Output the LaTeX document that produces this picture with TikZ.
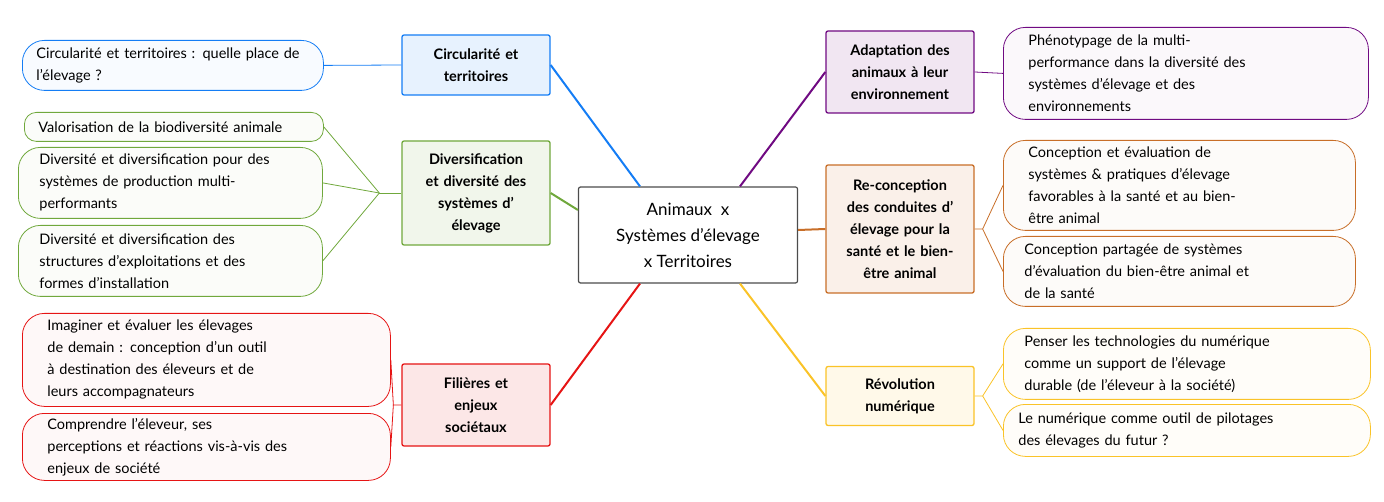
\documentclass[tikz,border=0pt]{standalone}
\usepackage{fontspec}
\setmainfont{Lato}
\definecolor{cblue}{RGB}{20,125,245}
\definecolor{cgreen}{RGB}{112,168,60}
\definecolor{cred}{RGB}{230,20,20}
\definecolor{cpurple}{RGB}{112,10,130}
\definecolor{corange}{RGB}{200,110,40}
\definecolor{cyellow}{RGB}{250,195,40}
\tikzset{
  branch/.style={draw=#1, fill=#1!10, rounded corners=2pt, line width=1.3pt,
    align=center, text width=140pt, inner sep=4pt, font=\fontsize{14.5}{22}\selectfont\bfseries},
  leaf/.style={draw=#1, fill=#1!3, rounded corners=22pt, line width=0.8pt,
    align=left, inner xsep=14pt, inner ysep=3pt, anchor=north west},
  link/.style={draw=#1, line width=2pt},
  twig/.style={draw=#1, line width=0.8pt}
}
\begin{document}
\begin{tikzpicture}[x=1pt,y=-1pt,font=\fontsize{14.5}{22}\selectfont]
\useasboundingbox (0,0) rectangle (1384,502);
% centre
\node [draw=black!70, fill=white, line width=1.2pt, rounded corners=2pt, align=center,
  minimum width=219pt, minimum height=96pt, font=\fontsize{17}{26}\selectfont] (centre) at (688,235)
  {Animaux\ \ x\\Systèmes d'élevage\\x Territoires};
% branches
\node [branch=cblue, minimum height=60pt] (circ) at (476,65) {Circularité et\\territoires};
\node [branch=cgreen, minimum height=104pt] (divers) at (476,193) {Diversification\\et diversité des\\systèmes d'\\élevage};
\node [branch=cred, minimum height=82pt] (fil) at (476,405) {Filières et\\enjeux\\sociétaux};
\node [branch=cpurple, minimum height=82pt] (adapt) at (900,72) {Adaptation des\\animaux à leur\\environnement};
\node [branch=corange, minimum height=128pt] (recon) at (900,229) {Re-conception\\des conduites d'\\élevage pour la\\santé et le bien-\\être animal};
\node [branch=cyellow, minimum height=59pt] (revol) at (900,396) {Révolution\\numérique};
% leaves left
\node [leaf=cblue, text width=273pt, minimum height=50pt] (l1) at (22,40) {Circularité et territoires : quelle place de\\l'élevage ?};
\node [leaf=cgreen, text width=271pt, minimum height=29pt, inner ysep=1pt, rounded corners=12pt] (l2) at (24,112) {Valorisation de la biodiversité animale};
\node [leaf=cgreen, text width=262pt, minimum height=71pt, inner xsep=21pt] (l3) at (18,147) {Diversité et diversification pour des\\systèmes de production multi-\\performants};
\node [leaf=cgreen, text width=262pt, minimum height=71pt, inner xsep=21pt] (l4) at (18,225) {Diversité et diversification des\\structures d'exploitations et des\\formes d'installation};
\node [leaf=cred, text width=318pt, minimum height=93pt, inner xsep=25pt] (l5) at (22,313) {Imaginer et évaluer les élevages\\de demain : conception d'un outil\\à destination des éleveurs et de\\leurs accompagnateurs};
\node [leaf=cred, text width=318pt, minimum height=67pt, inner xsep=25pt] (l6) at (22,413) {Comprendre l'éleveur, ses\\perceptions et réactions vis-à-vis des\\enjeux de société};
% leaves right
\node [leaf=cpurple, text width=315pt, minimum height=92pt, inner xsep=25pt] (r1) at (1003,27) {Phénotypage de la multi-\\performance dans la diversité des\\systèmes d'élevage et des\\environnements};
\node [leaf=corange, text width=302pt, minimum height=90pt, inner xsep=25pt] (r2) at (1003,140) {Conception et évaluation de\\systèmes \& pratiques d'élevage\\favorables à la santé et au bien-\\être animal};
\node [leaf=corange, text width=310pt, minimum height=70pt, inner xsep=21pt] (r3) at (1003,236) {Conception partagée de systèmes\\d'évaluation du bien-être animal et\\de la santé};
\node [leaf=cyellow, text width=325pt, minimum height=71pt, inner xsep=21pt] (r4) at (1003,328) {Penser les technologies du numérique\\comme un support de l'élevage\\durable (de l'éleveur à la société)};
\node [leaf=cyellow, text width=337pt, minimum height=52pt, inner xsep=15pt] (r5) at (1003,404) {Le numérique comme outil de pilotages\\des élevages du futur ?};
% links centre -> branches
\draw [link=cblue] (centre.north) ++(-48,0) -- (circ.east);
\draw [link=cgreen] (centre.west) ++(0,-25) -- (divers.east);
\draw [link=cred] (centre.south) ++(-48,0) -- (fil.east);
\draw [link=cpurple] (centre.north) ++(52,0) -- (adapt.west);
\draw [link=corange] (centre.east) ++(0,-5) -- (recon.west);
\draw [link=cyellow] (centre.south) ++(52,0) -- (revol.west);
% twigs branches -> leaves
\coordinate (fg) at ([xshift=-22pt]divers.west);
\coordinate (fr) at ([xshift=-8pt]fil.west);
\coordinate (fo) at ([xshift=8pt]recon.east);
\coordinate (fy) at ([xshift=8pt]revol.east);
\draw [twig=cblue] (circ.west) -- (l1.east);
\draw [twig=cpurple] (adapt.east) -- (r1.west);
\draw [twig=cgreen] (divers.west) -- (fg);
\draw [twig=cgreen] (fg) -- (l2.east);
\draw [twig=cgreen] (fg) -- (l3.east);
\draw [twig=cgreen] (fg) -- (l4.east);
\draw [twig=cred] (fil.west) -- (fr) -- (l5.east);
\draw [twig=cred] (fr) -- (l6.east);
\draw [twig=corange] (recon.east) -- (fo) -- (r2.west);
\draw [twig=corange] (fo) -- (r3.west);
\draw [twig=cyellow] (revol.east) -- (fy) -- (r4.west);
\draw [twig=cyellow] (fy) -- (r5.west);
\end{tikzpicture}
\end{document}
